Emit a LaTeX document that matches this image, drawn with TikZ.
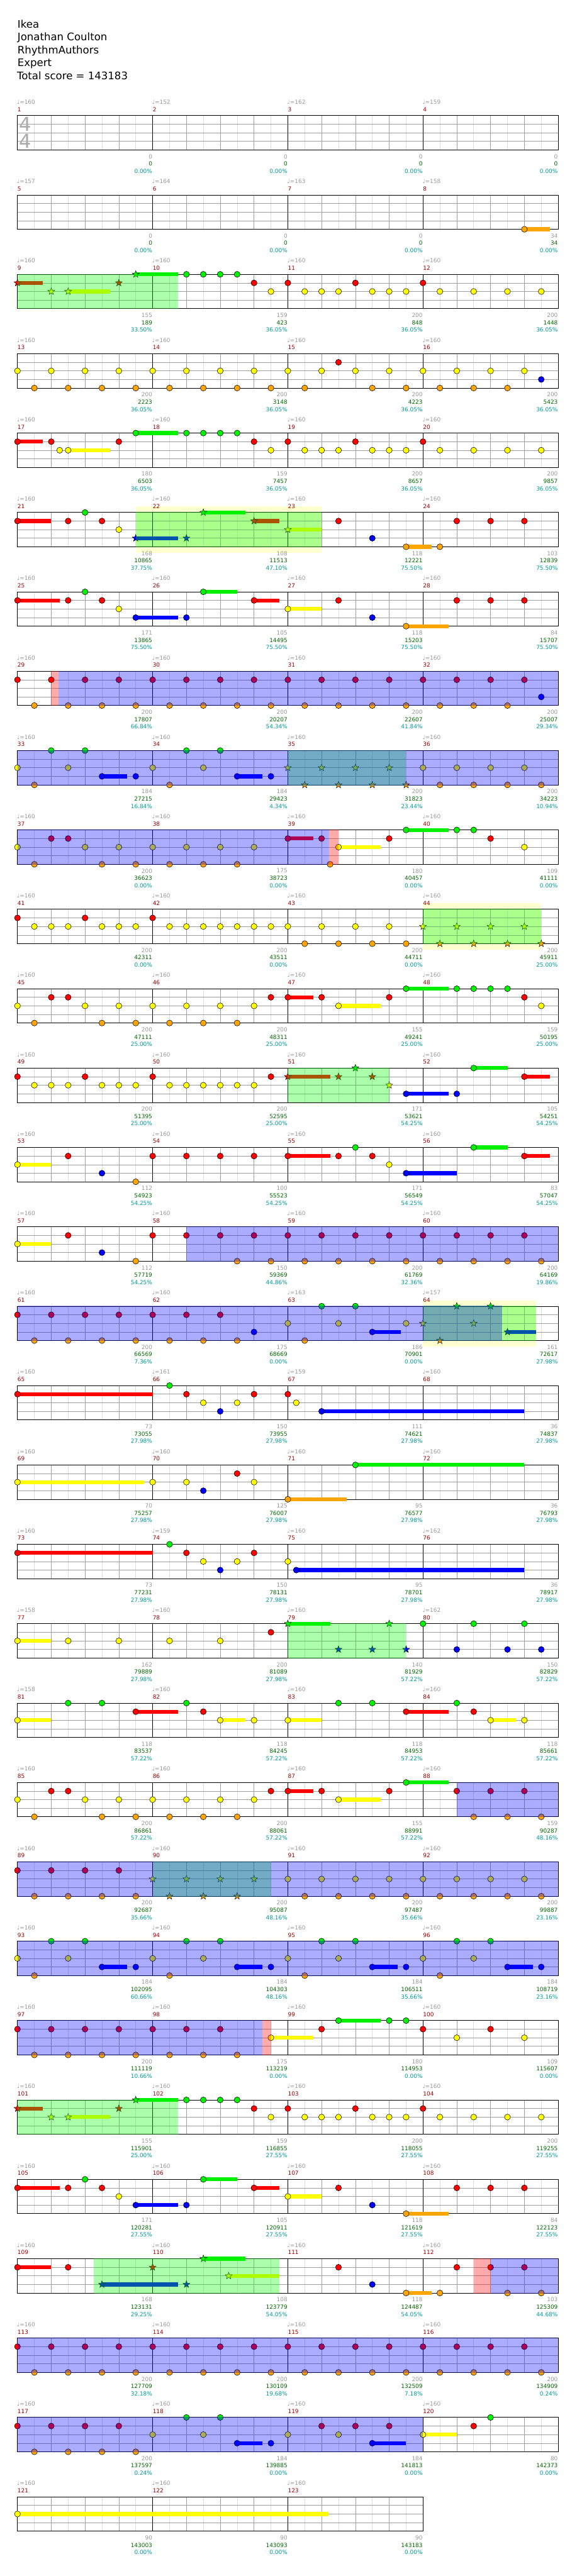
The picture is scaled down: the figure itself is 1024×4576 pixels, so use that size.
\documentclass[tikz,border=0pt]{standalone}
\usepackage{fontspec}
\setmainfont{DejaVu Sans}
\usetikzlibrary{shapes.geometric}
\definecolor{cG}{RGB}{0,240,0}
\definecolor{cR}{RGB}{255,0,0}
\definecolor{cY}{RGB}{255,255,0}
\definecolor{cB}{RGB}{0,0,255}
\definecolor{cO}{RGB}{255,165,0}
\definecolor{cSP}{RGB}{0,255,0}
\definecolor{cTeal}{RGB}{0,102,153}
\definecolor{paley}{RGB}{255,255,208}
\definecolor{lgray}{RGB}{221,221,221}
\definecolor{mgray}{RGB}{160,160,160}
\definecolor{tgray}{RGB}{153,153,153}
\definecolor{numred}{RGB}{153,0,0}
\definecolor{labgreen}{RGB}{0,102,0}
\definecolor{labteal}{RGB}{0,153,153}
\definecolor{sigray}{RGB}{170,170,170}
\tikzset{
 lightline/.style={draw=lgray,line width=0.7pt},
 beatline/.style={draw=mgray,line width=0.7pt},
 barline/.style={draw=black,line width=0.9pt},
 notehead/.style={draw=black,line width=0.6pt},
 starnote/.style={star,star points=5,star point ratio=2.4,minimum size=13pt,inner sep=0pt,draw=black,line width=0.5pt},
 odr/.style={fill=cB,fill opacity=0.33},
 spr/.style={fill=cSP,fill opacity=0.33},
 tel/.style={fill=cTeal,fill opacity=0.55},
 pnk/.style={fill=cR,fill opacity=0.33},
 smallfont/.style={font=\fontsize{10}{10}\selectfont,inner sep=0pt},
 tempolab/.style={smallfont,anchor=west,text=tgray},
 numlab/.style={smallfont,anchor=west,text=numred},
 glab/.style={smallfont,anchor=east,text=tgray},
 sclab/.style={smallfont,anchor=east,text=labgreen},
 pclab/.style={smallfont,anchor=east,text=labteal},
 titlelab/.style={anchor=base west,inner sep=0pt,font=\fontsize{18.5}{18.5}\selectfont},
}
% grid of a row with #1 measures
\newcommand\grid[1]{%
 \foreach \j in {1,...,#1}{%
  \foreach \d in {30,90,150,210}{\draw[lightline] ({31+240*(\j-1)+\d},0) -- ++(0,61);}
  \foreach \d in {60,120,180}{\draw[beatline] ({31+240*(\j-1)+\d},0) -- ++(0,61);}
 }
 \foreach \yy in {15.25,30.5,45.75}{\draw[beatline] (31,\yy) -- ({31+240*#1},\yy);}
 \ifnum#1>1 \foreach \j in {2,...,#1}{\draw[barline] ({31+240*(\j-1)},0) -- ++(0,61);}\fi
 \draw[barline] (31,0) rectangle ({31+240*#1},61);
}
% notes
\newcommand\nt[3]{\foreach \k in {#1}{\path[notehead,fill=#3] ({31+30*\k},#2) circle[radius=5.3pt];}}
\newcommand\Ng[1]{\nt{#1}{0}{cG}}
\newcommand\Nr[1]{\nt{#1}{15.25}{cR}}
\newcommand\Ny[1]{\nt{#1}{30.5}{cY}}
\newcommand\Nb[1]{\nt{#1}{45.75}{cB}}
\newcommand\No[1]{\nt{#1}{61}{cO}}
\newcommand\stt[3]{\foreach \k in {#1}{\node[starnote,fill=#3] at ({31+30*\k},#2) {};}}
\newcommand\Sg[1]{\stt{#1}{0}{cG}}
\newcommand\Sr[1]{\stt{#1}{15.25}{cR}}
\newcommand\Sy[1]{\stt{#1}{30.5}{cY}}
\newcommand\Sb[1]{\stt{#1}{45.75}{cB}}
\newcommand\So[1]{\stt{#1}{61}{cO}}
% holds
\newcommand\hd[4]{\fill[#4] ({31+30*(#1)},{#3-3.5}) rectangle ({31+30*(#2)},{#3+3.5});}
\newcommand\Hg[2]{\hd{#1}{#2}{0}{cG}}
\newcommand\Hr[2]{\hd{#1}{#2}{15.25}{cR}}
\newcommand\Hy[2]{\hd{#1}{#2}{30.5}{cY}}
\newcommand\Hb[2]{\hd{#1}{#2}{45.75}{cB}}
\newcommand\Ho[2]{\hd{#1}{#2}{61}{cO}}
% overlays
\newcommand\ov[3]{\fill[#3] ({31+30*(#1)},-0.6) rectangle ({31+30*(#2)},61.6);}
\newcommand\py[2]{\fill[paley] ({31+30*(#1)},-10.5) rectangle ({31+30*(#2)},71.5);}
% measure labels: j, number, tempo, a, b, c
\newcommand\ML[6]{%
 \node[tempolab] at ({31+240*#1-1},-24) {♩=#3};
 \node[numlab] at ({31+240*#1},-11) {#2};
 \node[glab] at ({31+240*(#1+1)-0.5},72.7) {#4};
 \node[sclab] at ({31+240*(#1+1)-0.5},85.7) {#5};
 \node[pclab] at ({31+240*(#1+1)-0.5},98.7) {#6};
}
\begin{document}
\begin{tikzpicture}[x=1pt,y=-1pt]
\useasboundingbox (0,0) rectangle (1024,4576);
\fill[white] (0,0) rectangle (1024,4576);
\node[titlelab] (t1) at (31,49.3) {Ikea};
\node[titlelab] (t2) at (31,72.3) {Jonathan Coulton};
\node[titlelab] (t3) at (31,95.3) {RhythmAuthors};
\node[titlelab] (t4) at (31,118.3) {Expert};
\node[titlelab] (t5) at (30,141.3) {Total score = 143183};
% row 1
\begin{scope}[shift={(0,205.3)}]
\grid{4}
\node[anchor=base,inner sep=0pt,text=sigray,font=\fontsize{34}{34}\selectfont] (sigA) at (44.5,28) {4};
\node[anchor=base,inner sep=0pt,text=sigray,font=\fontsize{34}{34}\selectfont] (sigB) at (44.5,58) {4};
\ML{0}{1}{160}{0}{0}{0.00\%}
\ML{1}{2}{152}{0}{0}{0.00\%}
\ML{2}{3}{162}{0}{0}{0.00\%}
\ML{3}{4}{159}{0}{0}{0.00\%}
\end{scope}
% row 2
\begin{scope}[shift={(0,346.3)}]
\grid{4}
\Ho{30}{31.5}\No{30}
\ML{0}{5}{157}{0}{0}{0.00\%}
\ML{1}{6}{164}{0}{0}{0.00\%}
\ML{2}{7}{163}{0}{0}{0.00\%}
\ML{3}{8}{158}{34}{34}{0.00\%}
\end{scope}
% row 3
\begin{scope}[shift={(0,487.3)}]
\grid{4}
\Hr{0}{1.5}\Hy{3}{5.5}\Hg{7}{9.5}
\Sr{0,6}\Sy{2,3}\Sg{7}
\Ng{10,11,12,13}\Nr{14,16,20,24}\Ny{15,17,18,19,21,22,23,25,...,31}
\ov{0}{9.5}{spr}
\ML{0}{9}{160}{155}{189}{33.50\%}
\ML{1}{10}{160}{159}{423}{36.05\%}
\ML{2}{11}{160}{200}{848}{36.05\%}
\ML{3}{12}{160}{200}{1448}{36.05\%}
\end{scope}
% row 4
\begin{scope}[shift={(0,628.3)}]
\grid{4}
\Ny{0,2,...,30}\Nr{19}\Nb{31}\No{1,3,...,17}\No{21,23,...,29}
\ML{0}{13}{160}{200}{2223}{36.05\%}
\ML{1}{14}{160}{200}{3148}{36.05\%}
\ML{2}{15}{160}{200}{4223}{36.05\%}
\ML{3}{16}{160}{200}{5423}{36.05\%}
\end{scope}
% row 5
\begin{scope}[shift={(0,769.3)}]
\grid{4}
\Hr{0}{1.5}\Hy{3}{5.5}\Hg{7}{9.5}
\Nr{0,2,6,14,16,20,24}\Ny{2.5,3,15,17,18,19,21,22,23,25,...,31}\Ng{7,10,11,12,13}
\ML{0}{17}{160}{180}{6503}{36.05\%}
\ML{1}{18}{160}{159}{7457}{36.05\%}
\ML{2}{19}{160}{200}{8657}{36.05\%}
\ML{3}{20}{160}{200}{9857}{36.05\%}
\end{scope}
% row 6
\begin{scope}[shift={(0,910.3)}]
\py{7}{18}
\grid{4}
\Hr{0}{2}\Hb{7}{9.5}\Hg{11}{13.5}\Hr{14}{15.5}\Hy{16}{18}\Ho{23}{24.5}
\Nr{0,3,5,19,26,28,30}\Ng{4}\Ny{6}\Nb{21}\No{23,25}
\Sb{7,10}\Sg{11}\Sr{14}\Sy{16}
\ov{7}{18}{spr}
\ML{0}{21}{160}{168}{10865}{37.75\%}
\ML{1}{22}{160}{108}{11513}{47.10\%}
\ML{2}{23}{160}{118}{12221}{75.50\%}
\ML{3}{24}{160}{103}{12839}{75.50\%}
\end{scope}
% row 7
\begin{scope}[shift={(0,1051.3)}]
\grid{4}
\Hr{0}{2.5}\Hb{7}{9.5}\Hg{11}{13}\Hr{14}{15.5}\Hy{16}{18}\Ho{23}{25.5}
\Nr{0,3,5,14,19,26,28,30}\Ng{4,11}\Ny{6,16}\Nb{7,10,21}\No{23}
\ML{0}{25}{160}{171}{13865}{75.50\%}
\ML{1}{26}{160}{105}{14495}{75.50\%}
\ML{2}{27}{160}{118}{15203}{75.50\%}
\ML{3}{28}{160}{84}{15707}{75.50\%}
\end{scope}
% row 8
\begin{scope}[shift={(0,1192.3)}]
\grid{4}
\Nr{0,2,4,6,...,30}\No{1,3,...,29}\Nb{31}
\ov{2}{2.42}{pnk}\ov{2.42}{32}{odr}
\ML{0}{29}{160}{200}{17807}{66.84\%}
\ML{1}{30}{160}{200}{20207}{54.34\%}
\ML{2}{31}{160}{200}{22607}{41.84\%}
\ML{3}{32}{160}{200}{25007}{29.34\%}
\end{scope}
% row 9
\begin{scope}[shift={(0,1333.3)}]
\grid{4}
\Hb{5}{6.5}\Hb{13}{14.5}
\Ny{0,3,8,11,24,26,28,30}\No{1,9,25,27,29,31}\Ng{2,4,10,12}\Nb{5,7,13,15}
\Sy{16,18,20,22}\So{17,19,21,23}
\ov{0}{16}{odr}\ov{16}{23}{tel}\ov{23}{32}{odr}
\ML{0}{33}{160}{184}{27215}{16.84\%}
\ML{1}{34}{160}{184}{29423}{4.34\%}
\ML{2}{35}{160}{200}{31823}{23.44\%}
\ML{3}{36}{160}{200}{34223}{10.94\%}
\end{scope}
% row 10
\begin{scope}[shift={(0,1474.3)}]
\grid{4}
\Hr{16}{17.5}\Hy{19}{21.5}\Hg{23}{25.5}
\Ny{0,4,6,8,10,12,14,19,30}\No{1,5,7,9,11,13,18.5}\Nr{2,3,16,18,22,28}\Ng{23,26,27}
\ov{0}{18.44}{odr}\ov{18.44}{19}{pnk}
\ML{0}{37}{160}{200}{36623}{0.00\%}
\ML{1}{38}{160}{175}{38723}{0.00\%}
\ML{2}{39}{160}{180}{40457}{0.00\%}
\ML{3}{40}{160}{109}{41111}{0.00\%}
\end{scope}
% row 11
\begin{scope}[shift={(0,1615.3)}]
\py{24}{31}
\grid{4}
\Nr{0,4,8}\Ny{1,2,3,5,6,7,9,10,11,12,13,14,15,16,18,20,22}\No{17,19,21,23}
\Sy{24,26,28,30}\So{25,27,29,31}
\ov{24}{31}{spr}
\ML{0}{41}{160}{200}{42311}{0.00\%}
\ML{1}{42}{160}{200}{43511}{0.00\%}
\ML{2}{43}{160}{200}{44711}{0.00\%}
\ML{3}{44}{160}{200}{45911}{25.00\%}
\end{scope}
% row 12
\begin{scope}[shift={(0,1756.3)}]
\grid{4}
\Hr{16}{17.5}\Hy{19}{21.5}\Hg{23}{25.5}
\Ny{0,4,6,8,10,12,14,19,31}\No{1,5,7,9,11,13}\Nr{2,3,15,16,18,22,30}\Ng{23,26,27,28,29}
\ML{0}{45}{160}{200}{47111}{25.00\%}
\ML{1}{46}{160}{200}{48311}{25.00\%}
\ML{2}{47}{160}{155}{49241}{25.00\%}
\ML{3}{48}{160}{159}{50195}{25.00\%}
\end{scope}
% row 13
\begin{scope}[shift={(0,1897.3)}]
\grid{4}
\Hr{16}{18.5}\Hb{23}{25.5}\Hg{27}{29}\Hr{30}{31.5}
\Nr{0,4,8,15,30}\Ny{1,2,3,5,6,7,9,10,11,12,13,14}\Nb{23,26}\Ng{27}
\Sr{16,19,21}\Sg{20}\Sy{22}
\ov{16}{22}{spr}
\ML{0}{49}{160}{200}{51395}{25.00\%}
\ML{1}{50}{160}{200}{52595}{25.00\%}
\ML{2}{51}{160}{171}{53621}{54.25\%}
\ML{3}{52}{160}{105}{54251}{54.25\%}
\end{scope}
% row 14
\begin{scope}[shift={(0,2038.3)}]
\grid{4}
\Hy{0}{2}\Hr{16}{18.5}\Hb{23}{26}\Hg{27}{29}\Hr{30}{31.5}
\Ny{0,22}\Nr{3,8,10,12,14,16,19,21,30}\Nb{5,23}\No{7}\Ng{20,27}
\ML{0}{53}{160}{112}{54923}{54.25\%}
\ML{1}{54}{160}{100}{55523}{54.25\%}
\ML{2}{55}{160}{171}{56549}{54.25\%}
\ML{3}{56}{160}{83}{57047}{54.25\%}
\end{scope}
% row 15
\begin{scope}[shift={(0,2179.3)}]
\grid{4}
\Hy{0}{2}
\Ny{0}\Nr{3,8,10,12,...,30}\Nb{5}\No{7,13,15,...,31}
\ov{10}{32}{odr}
\ML{0}{57}{160}{112}{57719}{54.25\%}
\ML{1}{58}{160}{150}{59369}{44.86\%}
\ML{2}{59}{160}{200}{61769}{32.36\%}
\ML{3}{60}{160}{200}{64169}{19.86\%}
\end{scope}
% row 16
\begin{scope}[shift={(0,2320.3)}]
\py{24}{30.7}
\grid{4}
\Hb{21}{22.7}\Hb{29}{30.7}
\Nr{0,2,...,12}\No{1,3,...,13,17}\Nb{14,21}\Ny{16,19,23}\Ng{18,20}
\Sy{24,27}\So{25}\Sg{26,28}\Sb{29}
\ov{0}{24}{odr}\ov{24}{28.67}{tel}\ov{28.67}{30.7}{spr}
\ML{0}{61}{160}{200}{66569}{7.36\%}
\ML{1}{62}{160}{175}{68669}{0.00\%}
\ML{2}{63}{163}{186}{70901}{0.00\%}
\ML{3}{64}{157}{161}{72617}{27.98\%}
\end{scope}
% row 17
\begin{scope}[shift={(0,2461.3)}]
\grid{4}
\Hr{0}{8}\Hb{18}{30}
\Nr{0,10,14,16}\Ng{9}\Ny{11,13,16.5}\Nb{12,18}
\ML{0}{65}{160}{73}{73055}{27.98\%}
\ML{1}{66}{161}{150}{73955}{27.98\%}
\ML{2}{67}{159}{111}{74621}{27.98\%}
\ML{3}{68}{160}{36}{74837}{27.98\%}
\end{scope}
% row 18
\begin{scope}[shift={(0,2602.3)}]
\grid{4}
\Hy{0}{7.5}\Ho{16}{19.5}\Hg{20}{30}
\Ny{0,8,10,14}\Nb{11}\Nr{13}\No{16}\Ng{20}
\ML{0}{69}{160}{70}{75257}{27.98\%}
\ML{1}{70}{160}{125}{76007}{27.98\%}
\ML{2}{71}{160}{95}{76577}{27.98\%}
\ML{3}{72}{160}{36}{76793}{27.98\%}
\end{scope}
% row 19
\begin{scope}[shift={(0,2743.3)}]
\grid{4}
\Hr{0}{8}\Hb{16.5}{30}
\Nr{0,10,14}\Ng{9}\Ny{11,13,16}\Nb{12,16.5}
\ML{0}{73}{160}{73}{77231}{27.98\%}
\ML{1}{74}{159}{150}{78131}{27.98\%}
\ML{2}{75}{160}{95}{78701}{27.98\%}
\ML{3}{76}{162}{36}{78917}{27.98\%}
\end{scope}
% row 20
\begin{scope}[shift={(0,2884.3)}]
\grid{4}
\Hy{0}{2}\Hg{16}{18.5}
\Ny{0,3,...,14}\Nr{15}\Ng{24,27,30}\Nb{26,29,31}
\Sg{16,22}\Sb{19,21,23}
\ov{16}{23}{spr}
\ML{0}{77}{158}{162}{79889}{27.98\%}
\ML{1}{78}{160}{200}{81089}{27.98\%}
\ML{2}{79}{160}{140}{81929}{57.22\%}
\ML{3}{80}{162}{150}{82829}{57.22\%}
\end{scope}
% row 21
\begin{scope}[shift={(0,3025.3)}]
\grid{4}
\Hy{0}{2}\Hr{7}{9.5}\Hy{12}{13.5}\Hy{16}{18}\Hr{23}{25.5}\Hy{28}{29.5}
\Ny{0,12,14,16,28,30}\Ng{3,5,10,19,21,26}\Nr{7,11,23,27}
\ML{0}{81}{158}{118}{83537}{57.22\%}
\ML{1}{82}{160}{118}{84245}{57.22\%}
\ML{2}{83}{160}{118}{84953}{57.22\%}
\ML{3}{84}{160}{118}{85661}{57.22\%}
\end{scope}
% row 22
\begin{scope}[shift={(0,3166.3)}]
\grid{4}
\Hr{16}{17.5}\Hy{19}{21.5}\Hg{23}{25.5}
\Ny{0,4,6,8,10,12,14,19}\No{1,5,7,9,11,13,27,29,31}\Nr{2,3,15,16,18,22,26,28,30}\Ng{23}
\ov{26}{32}{odr}
\ML{0}{85}{160}{200}{86861}{57.22\%}
\ML{1}{86}{160}{200}{88061}{57.22\%}
\ML{2}{87}{160}{155}{88991}{57.22\%}
\ML{3}{88}{160}{159}{90287}{48.16\%}
\end{scope}
% row 23
\begin{scope}[shift={(0,3307.3)}]
\grid{4}
\Nr{0,2,4,6}\No{1,3,5,7,17,19,...,31}\Ny{16,18,...,30}
\Sy{8,10,12,14}\So{9,11,13}
\ov{0}{8}{odr}\ov{8}{15}{tel}\ov{15}{32}{odr}
\ML{0}{89}{160}{200}{92687}{35.66\%}
\ML{1}{90}{160}{200}{95087}{48.16\%}
\ML{2}{91}{160}{200}{97487}{35.66\%}
\ML{3}{92}{160}{200}{99887}{23.16\%}
\end{scope}
% row 24
\begin{scope}[shift={(0,3448.3)}]
\grid{4}
\Hb{5}{6.5}\Hb{13}{14.5}\Hb{21}{22.5}\Hb{29}{30.5}
\Ny{0,3,8,11,16,19,24,27}\No{1,9,17,25}\Ng{2,4,10,12,18,20,26,28}\Nb{5,7,13,15,21,23,29,31}
\ov{0}{32}{odr}
\ML{0}{93}{160}{184}{102095}{60.66\%}
\ML{1}{94}{160}{184}{104303}{48.16\%}
\ML{2}{95}{160}{184}{106511}{35.66\%}
\ML{3}{96}{160}{184}{108719}{23.16\%}
\end{scope}
% row 25
\begin{scope}[shift={(0,3589.3)}]
\grid{4}
\Hy{15}{17.5}\Hg{19}{21.5}
\Nr{0,2,...,12,18,24,28}\No{1,3,...,13}\Ny{15,26,30}\Ng{19,22,23}
\ov{0}{14.5}{odr}\ov{14.5}{15}{pnk}
\ML{0}{97}{160}{200}{111119}{10.66\%}
\ML{1}{98}{160}{175}{113219}{0.00\%}
\ML{2}{99}{160}{180}{114953}{0.00\%}
\ML{3}{100}{160}{109}{115607}{0.00\%}
\end{scope}
% row 26
\begin{scope}[shift={(0,3730.3)}]
\grid{4}
\Hr{0}{1.5}\Hy{3}{5.5}\Hg{7}{9.5}
\Sr{0,6}\Sy{2,3}\Sg{7}
\Ng{10,11,12,13}\Nr{14,16,20,24}\Ny{15,17,18,19,21,22,23,25,...,31}
\ov{0}{9.5}{spr}
\ML{0}{101}{160}{155}{115901}{25.00\%}
\ML{1}{102}{160}{159}{116855}{27.55\%}
\ML{2}{103}{160}{200}{118055}{27.55\%}
\ML{3}{104}{160}{200}{119255}{27.55\%}
\end{scope}
% row 27
\begin{scope}[shift={(0,3871.3)}]
\grid{4}
\Hr{0}{2.5}\Hb{7}{9.5}\Hg{11}{13}\Hr{14}{15.5}\Hy{16}{18}\Ho{23}{25.5}
\Nr{0,3,5,14,19,26,28,30}\Ng{4,11}\Ny{6,16}\Nb{7,10,21}\No{23}
\ML{0}{105}{160}{171}{120281}{27.55\%}
\ML{1}{106}{160}{105}{120911}{27.55\%}
\ML{2}{107}{160}{118}{121619}{27.55\%}
\ML{3}{108}{160}{84}{122123}{27.55\%}
\end{scope}
% row 28
\begin{scope}[shift={(0,4012.3)}]
\grid{4}
\Hr{0}{2}\Hb{5}{9.5}\Hg{11}{13.5}\Hy{12.5}{15.5}\Ho{23}{24.5}
\Nr{0,3,19,26,28,30}\Nb{21}\No{23,25,29,31}
\Sb{5,10}\Sg{11}\Sy{12.5}\Sr{8}
\ov{4.5}{15.5}{spr}\ov{27}{28}{pnk}\ov{28}{32}{odr}
\ML{0}{109}{160}{168}{123131}{29.25\%}
\ML{1}{110}{160}{108}{123779}{54.05\%}
\ML{2}{111}{160}{118}{124487}{54.05\%}
\ML{3}{112}{160}{103}{125309}{44.68\%}
\end{scope}
% row 29
\begin{scope}[shift={(0,4153.3)}]
\grid{4}
\Nr{0,2,...,30}\No{1,3,...,31}
\ov{0}{32}{odr}
\ML{0}{113}{160}{200}{127709}{32.18\%}
\ML{1}{114}{160}{200}{130109}{19.68\%}
\ML{2}{115}{160}{200}{132509}{7.18\%}
\ML{3}{116}{160}{200}{134909}{0.24\%}
\end{scope}
% row 30
\begin{scope}[shift={(0,4294.3)}]
\grid{4}
\Hb{13}{14.5}\Hb{21}{23}\Hy{24}{26}
\Nr{0,2,4,6,18,20,22,27}\No{1,3,5,7}\Ng{10,12,28}\Ny{8,11,16,19,24}\Nb{13,15,21}
\ov{0}{24}{odr}
\ML{0}{117}{160}{200}{137597}{0.24\%}
\ML{1}{118}{160}{184}{139885}{0.00\%}
\ML{2}{119}{160}{184}{141813}{0.00\%}
\ML{3}{120}{160}{80}{142373}{0.00\%}
\end{scope}
% row 31
\begin{scope}[shift={(0,4435.3)}]
\grid{3}
\Hy{0}{18.4}\Ny{0}
\ML{0}{121}{160}{90}{143003}{0.00\%}
\ML{1}{122}{160}{90}{143093}{0.00\%}
\ML{2}{123}{160}{90}{143183}{0.00\%}
\end{scope}
\end{tikzpicture}
\end{document}
